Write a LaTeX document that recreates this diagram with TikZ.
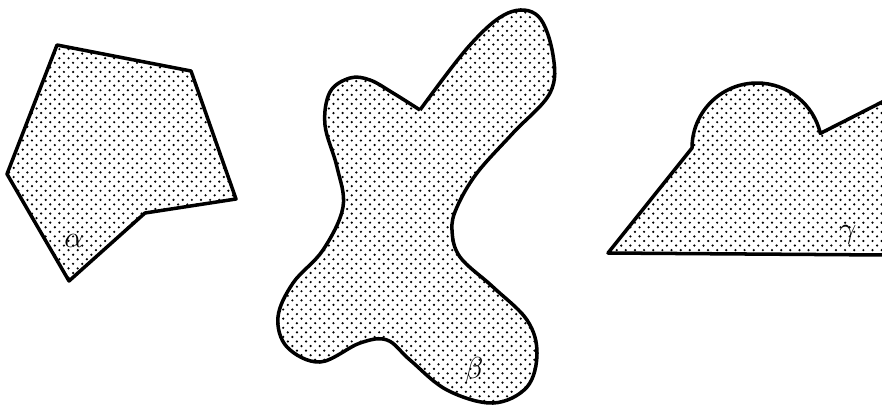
\documentclass[tikz,border=0pt]{standalone}
\usetikzlibrary{patterns}

% fine stipple used for all three regions
\pgfdeclarepatternformonly{stipple}{\pgfpoint{-1pt}{-1pt}}{\pgfpoint{5pt}{5pt}}{\pgfpoint{5.2pt}{5.2pt}}%
{
  \pgfpathcircle{\pgfpoint{0pt}{0pt}}{.7pt}
  \pgfpathcircle{\pgfpoint{2.6pt}{2.6pt}}{.7pt}
  \pgfusepath{fill}
}

\begin{document}
\begin{tikzpicture}[
  x=0.02cm, y=-0.02cm,
  region/.style={pattern=stipple,pattern color=black},
  rim/.style={draw,line width=2pt,line join=round},
  lab/.style={font=\LARGE,inner sep=0pt}
]
\useasboundingbox (0,0) rectangle (882,410);

% ---------- alpha ----------
\draw[rim,region] (57,45) -- (191,71) -- (236,199) -- (145,213) -- (69,281) -- (7,174) -- cycle;
\node[lab] (a) at (74,241) {$\alpha$};

% ---------- beta ----------
\draw[rim,region] plot[smooth,tension=0.6] coordinates {
  (420,110) (470,45) (508,13) (538,16) (553,55) (550,93) (513,133) (477,173)
  (457,207) (452,230) (460,257) (493,287) (527,320) (537,353) (527,387)
  (493,403) (447,390) (410,360) (387,340) (360,343) (320,362) (287,347)
  (278,317) (293,283) (323,250) (343,207) (337,167) (325,125) (330,92)
  (350,78) (370,80) (393,93) (420,110)};
\node[lab] (b) at (474,371) {$\beta$};

% ---------- gamma (runs off the right edge) ----------
\begin{scope}
  \clip (0,0) rectangle (882,410);
  \fill[region] (886,255) -- (608,253) -- (692,148) arc[start angle=180,end angle=347,radius=65]
    -- (886,100) -- cycle;
  \draw[rim] (886,255) -- (608,253) -- (692,148) arc[start angle=180,end angle=347,radius=65]
    -- (886,100);
\end{scope}
\node[lab] (g) at (848,235) {$\gamma$};

\end{tikzpicture}
\end{document}
